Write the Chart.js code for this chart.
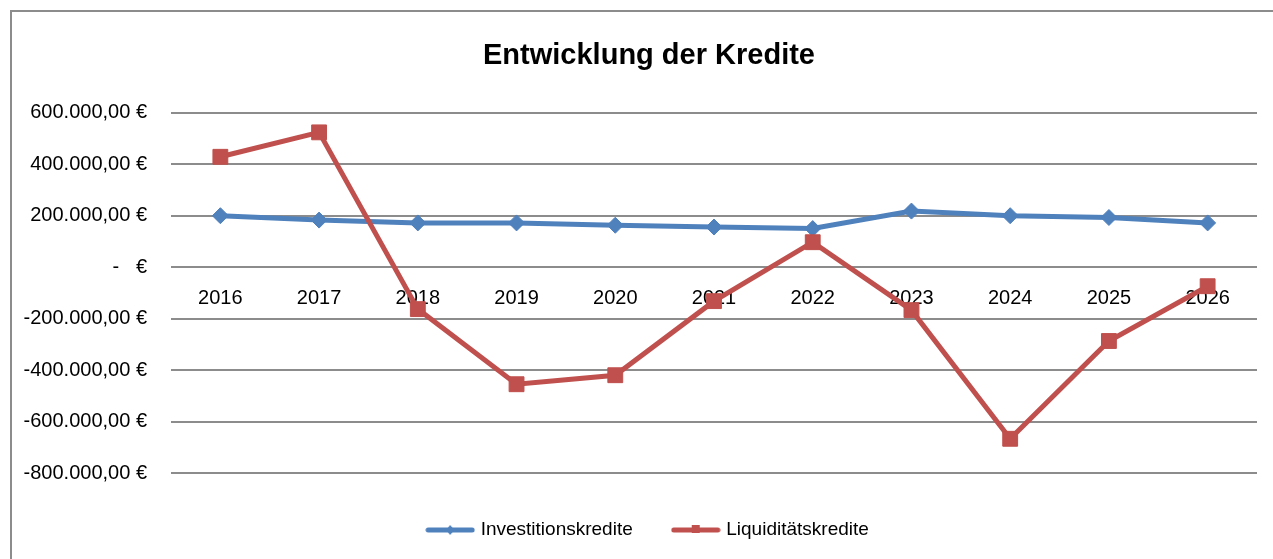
<!DOCTYPE html>
<html>
<head>
<meta charset="utf-8">
<script src="https://cdn.jsdelivr.net/npm/chart.js@4.4.1/dist/chart.umd.min.js"></script>
<style>
  html, body { margin: 0; padding: 0; background: #fff; overflow: hidden; }
  #frame {
    position: absolute; left: 10px; top: 10px;
    width: 1276px; height: 560px;
    border-left: 2px solid #8c8c8c; border-top: 2px solid #8c8c8c;
  }
  #chart { display: block; }
</style>
</head>
<body>
<div id="frame"><canvas id="chart" width="1274" height="547"></canvas></div>
<script>
      const years = ["2016", "2017", "2018", "2019", "2020", "2021", "2022", "2023", "2024", "2025", "2026"];
      const investitionskredite = [200000, 183000, 172000, 172000, 163000, 156000, 150000, 218000, 200000, 193000, 172000];
      const liquiditaetskredite = [429000, 524000, -163000, -455000, -420000, -132000, 97000, -167000, -667000, -287000, -74000];
      const yMin = -800000;
      const yMax = 600000;
      const yStep = 200000;

      const blue = "#4f81bd";
      const red = "#c0504d";
      const gridGray = "#8c8c8c";
      const sans = '"Liberation Sans", Arial, sans-serif';

      function euro(value) {
        if (value === 0) return "-   €";
        return value.toLocaleString("de-DE", { minimumFractionDigits: 2, maximumFractionDigits: 2 }) + " €";
      }

      // little line + marker picture for the legend
      function legendIcon(color, shape) {
        const c = document.createElement("canvas");
        c.width = 50;
        c.height = 14;
        const ctx = c.getContext("2d");
        ctx.strokeStyle = color;
        ctx.fillStyle = color;
        ctx.lineWidth = 5;
        ctx.lineCap = "round";
        ctx.beginPath();
        ctx.moveTo(3, 7);
        ctx.lineTo(47, 7);
        ctx.stroke();
        ctx.beginPath();
        if (shape === "diamond") {
          ctx.moveTo(25, 2); ctx.lineTo(29, 7); ctx.lineTo(25, 12); ctx.lineTo(21, 7);
        } else {
          ctx.rect(21, 2, 8, 8);
        }
        ctx.closePath();
        ctx.fill();
        return c;
      }

      const icons = [legendIcon(blue, "diamond"), legendIcon(red, "square")];

      const ctx = document.getElementById("chart").getContext("2d");
      const myChart = new Chart(ctx, {
        type: "line",
        data: {
          labels: years,
          datasets: [
            {
              label: "Investitionskredite",
              data: investitionskredite,
              borderColor: blue,
              backgroundColor: blue,
              borderWidth: 5,
              pointStyle: "rectRot",
              pointRadius: 8,
              pointBorderWidth: 1,
              tension: 0,
              order: 1,
            },
            {
              label: "Liquiditätskredite",
              data: liquiditaetskredite,
              borderColor: red,
              backgroundColor: red,
              borderWidth: 5,
              pointStyle: "rect",
              pointRadius: 10.5,
              pointBorderWidth: 1,
              tension: 0,
              order: 0,
            },
          ],
        },
        options: {
          responsive: false,
          animation: false,
          layout: {
            padding: { left: 0, right: 0, top: 0, bottom: 9.5 },
          },
          scales: {
            x: {
              type: "category",
              position: { y: 0 },
              offset: true,
              grid: { display: false, drawTicks: false },
              border: { display: false },
              ticks: {
                color: "#000",
                padding: 19,
                maxRotation: 0,
                autoSkip: false,
                font: { family: sans, size: 20 },
              },
            },
            y: {
              min: yMin,
              max: yMax,
              afterFit: (scale) => { scale.width = 159; },
              grid: { color: gridGray, lineWidth: 2, drawTicks: false },
              border: { display: false },
              ticks: {
                stepSize: yStep,
                color: "#000",
                padding: 24,
                font: { family: sans, size: 20 },
                callback: (value) => euro(value),
              },
            },
            // empty right-hand strip, keeps the plot clear of the right edge
            yRight: {
              position: "right",
              min: yMin,
              max: yMax,
              afterFit: (scale) => { scale.width = 29; },
              grid: { display: false, drawTicks: false },
              border: { display: false },
              ticks: { display: false },
            },
          },
          plugins: {
            title: {
              display: true,
              text: "Entwicklung der Kredite",
              color: "#000",
              font: { family: sans, size: 29, weight: "bold" },
              padding: { top: 27, bottom: 39 },
            },
            legend: {
              position: "bottom",
              title: { display: true, text: "", padding: 0, font: { size: 5.5, lineHeight: 1 } },
              labels: {
                color: "#000",
                padding: 42,
                usePointStyle: true,
                pointStyleWidth: 42,
                font: { family: sans, size: 19 },
                generateLabels: (chart) =>
                  chart.data.datasets.map((ds, i) => ({
                    text: ds.label,
                    fillStyle: ds.borderColor,
                    strokeStyle: ds.borderColor,
                    pointStyle: icons[i],
                    fontColor: "#000",
                    datasetIndex: i,
                    hidden: false,
                  })),
              },
            },
            tooltip: { enabled: false },
          },
        },
      });
</script>
</body>
</html>
